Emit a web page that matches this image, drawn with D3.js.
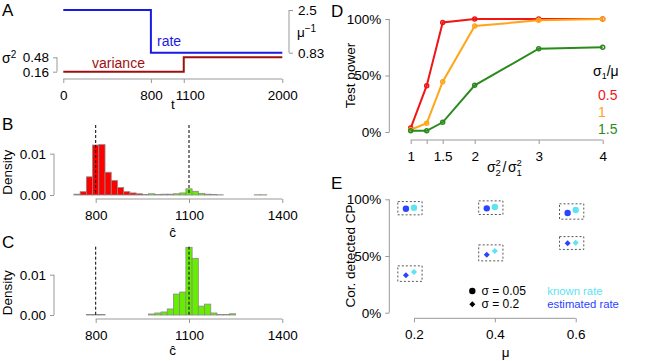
<!DOCTYPE html>
<html><head><meta charset="utf-8">
<script src="https://cdn.jsdelivr.net/npm/d3@7"></script>
<style>
body{margin:0;background:#fff}
svg{font-family:"Liberation Sans",Arial,Helvetica,sans-serif;background:#fff}
</style></head><body>
<svg id="chart" width="667" height="361"></svg>
<script>
// ---- panel A: simulated process
var timeTicks = [0, 800, 1100, 2000];
var rateTimes = [0, 800, 2000];
var rateValues = [2.5, 0.83, 0.83];
var varTimes = [0, 1100, 2000];
var varValues = [0.16, 0.48, 0.48];
var rateTicks = [0.83, 2.5];
var varTicks = [0.16, 0.48];

// ---- panels B, C: histograms of the estimated change point
var binStarts = [670, 690, 710, 730, 750, 770, 790, 810, 830, 850, 870, 890, 910, 930, 950,
  970, 990, 1010, 1030, 1050, 1070, 1090, 1110, 1130, 1150, 1170, 1190, 1210, 1230, 1250,
  1270, 1290, 1310, 1330, 1350, 1370, 1390, 1410];
var splitAt = 950; // bins below are red, above green
var densityB = [0, 0, 0, 0.0002, 0.0008, 0.0044, 0.0121, 0.0122, 0.0055, 0.0035, 0.0018, 0.0008, 0.0005, 0.0003, 0.0001,
  0.0003, 0.0001, 0.0002, 0.0002, 0.0003, 0.0005, 0.0015, 0.0009, 0.0004, 0.0002, 0.0001, 0.00005, 0, 0, 0,
  0, 0, 0.00005, 0.00005, 0, 0, 0, 0];
var densityC = [0, 0, 0, 0, 0, 0.0001, 0.0001, 0.0001, 0, 0, 0, 0, 0, 0, 0,
  0.00025, 0.0005, 0.00075, 0.0015, 0.0052, 0.0057, 0.0168, 0.0140, 0.0022, 0.0027, 0.0005, 0.0001, 0.0001, 0.0003, 0,
  0, 0, 0, 0, 0, 0, 0, 0];
var histTicks = [800, 1100, 1400];
var trueCP = [800, 1100];
var densTicks = [0, 0.01];

// ---- panel D: test power
var varRatios = [1, 1.25, 1.5, 2, 3, 4];
var ratioLabels = [1, 1.5, 2, 3, 4];
var sigmaMu = ['0.5', '1', '1.5'];
var power05 = [3.5, 41, 97, 100, 100, 100];
var power10 = [2, 7.7, 44.5, 93.8, 98.8, 100];
var power15 = [1, 1, 8.6, 41.3, 73.7, 75];
var powerColors = ['#f01616', '#ffa519', '#2a8a1c'];

// ---- panel E: correctly detected change points
var mus = [0.2, 0.4, 0.6];
var known005 = [92.6, 93.2, 90.6];
var est005 = [91.7, 92.0, 87.9];
var known02 = [35.9, 54.4, 61.7];
var est02 = [33.0, 51.1, 61.2];
var pctTicks = [0, 50, 100];

var knownColor = '#5ce4f2';
var estColor = '#2a44ff';
var axisColor = '#999';
var tickFont = '13.5px';

var svg = d3.select('#chart');

// R-like axis: line only from first to last tick
function rAxis(g, scale, orient, ticks, fmt, pad) {
  var ax = orient(scale).tickValues(ticks).tickSize(4).tickSizeOuter(0).tickPadding(pad || 4);
  if (fmt) ax.tickFormat(fmt);
  g.call(ax);
  g.select('.domain').remove();
  g.selectAll('.tick line').attr('stroke', axisColor);
  g.selectAll('.tick text').attr('fill', '#000').style('font-size', tickFont).style('font-family', null);
  var a = scale(ticks[0]), b = scale(ticks[ticks.length - 1]);
  var horiz = (orient === d3.axisBottom || orient === d3.axisTop);
  g.append('line')
    .attr('x1', horiz ? a : 0).attr('x2', horiz ? b : 0)
    .attr('y1', horiz ? 0 : a).attr('y2', horiz ? 0 : b)
    .attr('stroke', axisColor);
  return g;
}

function panelLetter(t, x, y) {
  svg.append('text').attr('x', x).attr('y', y).text(t).style('font-size', '17px');
}

// ================= A =================
var xA = d3.scaleLinear().domain([0, 2000]).range([63.3, 282.3]);
var yRate = d3.scaleLinear().domain([0.83, 2.5]).range([52.7, 10]);
var yVar = d3.scaleLinear().domain([0.16, 0.48]).range([71.7, 57.3]);

var gA = svg.append('g');
rAxis(gA.append('g').attr('transform', 'translate(0,79)'), xA, d3.axisBottom, timeTicks, d3.format('d'), 7);
gA.selectAll('.tick text').filter(d => d === 1100).attr('dx', 6);
rAxis(gA.append('g').attr('transform', 'translate(57,0)'), yVar, d3.axisLeft, varTicks, d3.format('.2f'), 4);
rAxis(gA.append('g').attr('transform', 'translate(289,0)'), yRate, d3.axisRight, rateTicks, d => d === 2.5 ? '2.5' : '0.83', 5);

var stepLine = d3.line().curve(d3.curveStepAfter);
gA.append('path')
  .attr('d', stepLine(rateTimes.map((t, i) => [xA(t), yRate(rateValues[i])])))
  .attr('fill', 'none').attr('stroke', '#1a1ae6').attr('stroke-width', 2);
gA.append('path')
  .attr('d', stepLine(varTimes.map((t, i) => [xA(t), yVar(varValues[i])])))
  .attr('fill', 'none').attr('stroke', '#9e1010').attr('stroke-width', 2);

gA.append('text').attr('x', 157).attr('y', 46).text('rate').attr('fill', '#1a1ae6').style('font-size', '14px');
gA.append('text').attr('x', 92).attr('y', 68).text('variance').attr('fill', '#9e1010').style('font-size', '14px');
gA.append('text').attr('x', 173).attr('y', 109).attr('text-anchor', 'middle').text('t').style('font-size', '13.5px');
var s2 = gA.append('text').attr('x', 2).attr('y', 63).style('font-size', '14px');
s2.append('tspan').text('σ');
s2.append('tspan').attr('dy', -5).style('font-size', '10px').text('2');
var mu1 = gA.append('text').attr('x', 297).attr('y', 37).style('font-size', '13.5px');
mu1.append('tspan').text('μ');
mu1.append('tspan').attr('dy', -5).style('font-size', '10px').text('−1');
panelLetter('A', 2, 16);

// ================= B, C =================
var xH = d3.scaleLinear().domain([800, 1100]).range([95.7, 189]);

function histPanel(dens, yBase, y001, topDash, letterY, letter, labelGap) {
  var y = d3.scaleLinear().domain([0, 0.01]).range([yBase, y001]);
  var g = svg.append('g');
  g.selectAll('rect').data(binStarts).enter().append('rect')
    .attr('x', d => xH(d))
    .attr('width', xH(binStarts[1]) - xH(binStarts[0]))
    .attr('y', (d, i) => y(dens[i]))
    .attr('height', (d, i) => y(0) - y(dens[i]))
    .attr('fill', d => d < splitAt ? '#ff0000' : '#66ee00')
    .attr('stroke', '#8a8a8a').attr('stroke-width', 0.8);
  g.selectAll('line.cp').data(trueCP).enter().append('line').attr('class', 'cp')
    .attr('x1', d => xH(d)).attr('x2', d => xH(d))
    .attr('y1', topDash).attr('y2', yBase)
    .attr('stroke', '#000').attr('stroke-dasharray', '3,2').attr('stroke-width', 1);
  rAxis(g.append('g').attr('transform', 'translate(0,' + (yBase + 4) + ')'), xH, d3.axisBottom, histTicks, d3.format('d'), 7);
  rAxis(g.append('g').attr('transform', 'translate(54,0)'), y, d3.axisLeft, densTicks, d3.format('.2f'), 4);
  g.append('text').attr('transform', 'translate(12,' + ((yBase + y001) / 2 - 2) + ') rotate(-90)')
    .attr('text-anchor', 'middle').text('Density').style('font-size', '13.5px');
  g.append('text').attr('x', 172.5).attr('y', yBase + labelGap).attr('text-anchor', 'middle')
    .text('ĉ').style('font-size', '13.5px');
  panelLetter(letter, 2, letterY);
}
histPanel(densityB, 195, 153.7, 125, 130, 'B', 42);
histPanel(densityC, 315, 274.7, 246.7, 248, 'C', 40);

// ================= D =================
var xD = d3.scaleLinear().domain([1, 4]).range([410.7, 602.7]);
var yD = d3.scaleLinear().domain([0, 100]).range([132, 19]);
var gD = svg.append('g');
rAxis(gD.append('g').attr('transform', 'translate(0,140)'), xD, d3.axisBottom, varRatios, d => ratioLabels.indexOf(d) >= 0 ? d : '', 7);
rAxis(gD.append('g').attr('transform', 'translate(389.3,0)'), yD, d3.axisLeft, pctTicks, d => d + '%', 4);
[power05, power10, power15].forEach(function (vals, k) {
  var pts = varRatios.map((r, i) => [xD(r), yD(vals[i])]);
  gD.append('path').attr('d', d3.line()(pts)).attr('fill', 'none')
    .attr('stroke', powerColors[k]).attr('stroke-width', 2);
  gD.selectAll('circle.p' + k).data(pts).enter().append('circle').attr('class', 'p' + k)
    .attr('cx', d => d[0]).attr('cy', d => d[1]).attr('r', 2)
    .attr('fill', 'none').attr('stroke', powerColors[k]).attr('stroke-width', 1.5);
});
gD.append('text').attr('transform', 'translate(355,' + ((132 + 19) / 2) + ') rotate(-90)')
  .attr('text-anchor', 'middle').text('Test power').style('font-size', '13.5px');
// x label sigma2^2 / sigma1^2
var xl = gD.append('g').attr('transform', 'translate(487,172)').style('font-size', '14px');
xl.append('text').attr('x', 0).attr('y', 0).text('σ');
xl.append('text').attr('x', 8.5).attr('y', -6).text('2').style('font-size', '9.5px');
xl.append('text').attr('x', 8.5).attr('y', 4).text('2').style('font-size', '9.5px');
xl.append('text').attr('x', 15.5).attr('y', 0).text('/');
xl.append('text').attr('x', 21).attr('y', 0).text('σ');
xl.append('text').attr('x', 29.5).attr('y', -6).text('2').style('font-size', '9.5px');
xl.append('text').attr('x', 29.5).attr('y', 4).text('1').style('font-size', '9.5px');
// legend
var lg = gD.append('g').style('font-size', '14px');
var lt = lg.append('text').attr('x', 593).attr('y', 76);
lt.append('tspan').text('σ');
lt.append('tspan').attr('dy', 3).style('font-size', '9px').text('1');
lt.append('tspan').attr('dy', -3).text('/μ');
lg.selectAll('text.lv').data(sigmaMu).enter().append('text').attr('class', 'lv')
  .attr('x', 598).attr('y', (d, i) => 100 + i * 17)
  .attr('fill', (d, i) => powerColors[i]).text(d => d);
panelLetter('D', 331, 17);

// ================= E =================
var xE = d3.scaleLinear().domain([0.2, 0.6]).range([414, 575.7]);
var yE = d3.scaleLinear().domain([0, 100]).range([312.7, 199.3]);
var gE = svg.append('g');
rAxis(gE.append('g').attr('transform', 'translate(0,318.3)'), xE, d3.axisBottom, mus, d3.format('.1f'), 7);
rAxis(gE.append('g').attr('transform', 'translate(389.3,0)'), yE, d3.axisLeft, pctTicks, d => d + '%', 4);
gE.append('text').attr('transform', 'translate(355,256) rotate(-90)')
  .attr('text-anchor', 'middle').text('Cor. detected CP').style('font-size', '13.5px');
gE.append('text').attr('x', 505.7).attr('y', 357).attr('text-anchor', 'middle').text('μ').style('font-size', '13.5px');

var shift = 0.02;
function diamond(r) { return 'M0,' + (-r) + 'L' + r + ',0L0,' + r + 'L' + (-r) + ',0Z'; }
[[est005, known005, 'c'], [est02, known02, 'd']].forEach(function (pair) {
  var est = pair[0], kn = pair[1], shape = pair[2];
  mus.forEach(function (m, i) {
    var hi = Math.max(est[i], kn[i]) + 5.4, lo = Math.min(est[i], kn[i]) - 5.4;
    gE.append('rect')
      .attr('x', xE(m - 2 * shift)).attr('width', xE(m + shift) - xE(m - 2 * shift))
      .attr('y', yE(hi)).attr('height', yE(lo) - yE(hi))
      .attr('fill', 'none').attr('stroke', '#444').attr('stroke-dasharray', '2,2').attr('stroke-width', 0.9);
    [[m - shift, est[i], estColor], [m, kn[i], knownColor]].forEach(function (p) {
      if (shape === 'c') {
        gE.append('circle').attr('cx', xE(p[0])).attr('cy', yE(p[1])).attr('r', 3.2).attr('fill', p[2]);
      } else {
        gE.append('path').attr('d', diamond(3)).attr('fill', p[2])
          .attr('transform', 'translate(' + xE(p[0]) + ',' + yE(p[1]) + ')');
      }
    });
  });
});
// legend
gE.append('circle').attr('cx', 472.3).attr('cy', 291).attr('r', 3.2).attr('fill', '#000');
gE.append('path').attr('d', diamond(3)).attr('transform', 'translate(472.3,304.3)').attr('fill', '#000');
gE.append('text').attr('x', 481.5).attr('y', 295).text('σ = 0.05').style('font-size', '12px');
gE.append('text').attr('x', 481.5).attr('y', 308.3).text('σ = 0.2').style('font-size', '12px');
gE.append('text').attr('x', 547.3).attr('y', 295).text('known rate').attr('fill', knownColor).style('font-size', '11.3px');
gE.append('text').attr('x', 547.3).attr('y', 308.3).text('estimated rate').attr('fill', estColor).style('font-size', '11.3px');
panelLetter('E', 331, 189);
</script>
</body></html>
